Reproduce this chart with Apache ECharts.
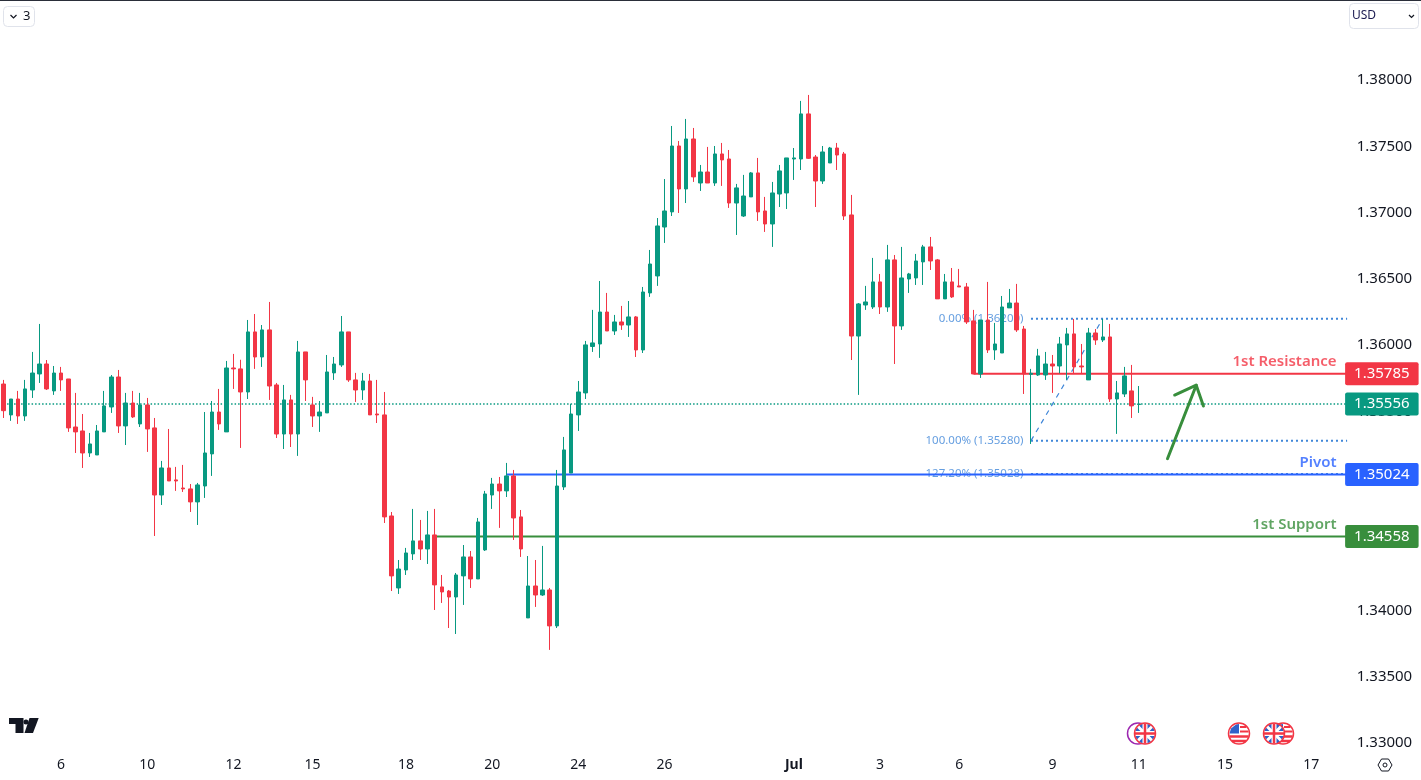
<!DOCTYPE html>
<html>
<head>
<meta charset="utf-8">
<title>GBP/USD 4H</title>
<script src="https://cdn.jsdelivr.net/npm/echarts@6/dist/echarts.min.js"></script>
<style>
  html, body { margin: 0; padding: 0; background: #fff; }
  #graphics { width: 1421px; height: 780px; }
</style>
</head>
<body>
<div id="graphics"></div>
<script>
// 4H candles
const opens = [
  1.35707,1.35474,1.35594,1.35466,1.35662,1.35783,1.35858,1.35655,1.3579,1.35745,
  1.35383,1.35353,1.35187,1.35172,1.35346,1.35534,1.3576,1.35391,1.35564,1.35406,
  1.35549,1.35376,1.3487,1.35074,1.34984,1.34923,1.34916,1.34818,1.34938,1.3518,
  1.35496,1.35346,1.35828,1.35821,1.35647,1.361,1.35911,1.36115,1.357,1.3533,
  1.35587,1.3533,1.35949,1.35549,1.35466,1.35489,1.35791,1.35851,1.361,1.35738,
  1.35662,1.3573,1.35481,1.35474,1.34712,1.34169,1.34305,1.34426,1.34524,1.34463,
  1.34569,1.34177,1.34146,1.34101,1.3426,1.34403,1.34237,1.34456,1.3487,1.34953,
  1.34901,1.35014,1.34705,1.33943,1.34184,1.34116,1.34154,1.33883,1.34931,1.35036,
  1.35474,1.3564,1.3599,1.36009,1.3625,1.36107,1.36175,1.36152,1.36213,1.35964,
  1.36394,1.36522,1.36891,1.37005,1.37502,1.37178,1.37555,1.37223,1.37306,1.37223,
  1.37442,1.37404,1.37072,1.36974,1.37118,1.37299,1.37012,1.36914,1.3714,1.37148,
  1.37404,1.37404,1.37744,1.37419,1.37238,1.37374,1.37487,1.37442,1.36982,1.36069,
  1.36303,1.36288,1.36477,1.36288,1.36643,1.36145,1.36499,1.36507,1.36628,1.36741,
  1.36643,1.36349,1.36477,1.36447,1.36439,1.36183,1.35783,1.3619,1.35964,1.35941,
  1.36281,1.36318,1.36122,1.3578,1.35775,1.35775,1.35858,1.35843,1.36002,1.36085,
  1.35843,1.35738,1.36092,1.36039,1.36062,1.35594,1.35632,1.35655,1.35553
];
const closes = [
  1.35506,1.35594,1.35466,1.3567,1.3579,1.35858,1.3567,1.3579,1.35738,1.35376,
  1.35346,1.35187,1.35255,1.35353,1.35542,1.3576,1.35391,1.35564,1.35459,1.35549,
  1.35368,1.3487,1.35074,1.34976,1.34976,1.34916,1.34818,1.34946,1.35187,1.35496,
  1.35406,1.35828,1.35821,1.35647,1.361,1.35911,1.36115,1.35692,1.3533,1.35587,
  1.3533,1.35949,1.35738,1.35466,1.35496,1.35798,1.35858,1.361,1.35738,1.35662,
  1.3573,1.35474,1.35474,1.34705,1.3426,1.34312,1.34433,1.34524,1.34463,1.34569,
  1.34192,1.34139,1.34101,1.34267,1.34403,1.34237,1.34667,1.34878,1.34953,1.34901,
  1.35014,1.34697,1.34463,1.34184,1.34116,1.34154,1.33883,1.34938,1.3521,1.35481,
  1.35647,1.36002,1.36017,1.3625,1.36107,1.36175,1.36152,1.36213,1.35964,1.36401,
  1.36612,1.36899,1.37012,1.37502,1.37178,1.37555,1.37269,1.37306,1.37223,1.37442,
  1.37397,1.37072,1.37186,1.37125,1.37299,1.37005,1.36914,1.37148,1.37314,1.37412,
  1.37412,1.37744,1.37409,1.37238,1.37457,1.37487,1.37434,1.36974,1.36069,1.36311,
  1.36326,1.36477,1.36288,1.36643,1.36145,1.36507,1.36537,1.36635,1.36741,1.36635,
  1.36349,1.36477,1.36364,1.36439,1.36175,1.35783,1.3619,1.35964,1.36009,1.36288,
  1.36318,1.36115,1.35783,1.35788,1.35919,1.35858,1.35843,1.36009,1.36085,1.35836,
  1.35836,1.36092,1.36039,1.36062,1.35594,1.3564,1.35768,1.35542,1.35556
];
const highs = [
  1.35738,1.35594,1.35655,1.35738,1.35949,1.3616,1.35888,1.35843,1.35836,1.35745,
  1.3564,1.35481,1.35338,1.35398,1.35655,1.35775,1.35813,1.3564,1.35655,1.3564,
  1.35602,1.35451,1.35127,1.35368,1.35082,1.35097,1.34953,1.34961,1.35496,1.35579,
  1.3567,1.35881,1.35934,1.3589,1.3619,1.36235,1.36152,1.36326,1.35715,1.357,
  1.35625,1.36032,1.35949,1.3561,1.35579,1.35926,1.35911,1.3622,1.361,1.35791,
  1.35791,1.35783,1.35738,1.35647,1.34742,1.3438,1.34471,1.34765,1.34682,1.3475,
  1.34765,1.34267,1.34154,1.34282,1.34493,1.34448,1.34697,1.34901,1.34999,1.35006,
  1.35112,1.35059,1.34757,1.3441,1.3438,1.34486,1.34169,1.35059,1.35308,1.35557,
  1.3573,1.36032,1.36266,1.36484,1.36394,1.36228,1.36296,1.36333,1.3622,1.36439,
  1.36718,1.36959,1.37253,1.37653,1.3754,1.37706,1.37638,1.37359,1.37495,1.37502,
  1.37525,1.37472,1.37216,1.37284,1.37306,1.37412,1.37118,1.37231,1.37359,1.37412,
  1.37487,1.37842,1.37887,1.37434,1.37502,1.37495,1.37525,1.37457,1.37133,1.36318,
  1.36447,1.36658,1.36537,1.36756,1.3668,1.36741,1.36545,1.36688,1.36756,1.36816,
  1.3665,1.36537,1.36582,1.36575,1.36469,1.36266,1.3619,1.36477,1.36168,1.36371,
  1.36424,1.36462,1.36145,1.35821,1.35972,1.35949,1.35926,1.36062,1.3613,1.36198,
  1.36009,1.3613,1.36122,1.36198,1.3616,1.3573,1.35836,1.35851,1.35692
];
const lows = [
  1.35451,1.35429,1.35406,1.35429,1.35602,1.35715,1.35662,1.35625,1.35655,1.35346,
  1.35187,1.35074,1.35157,1.35172,1.35346,1.35489,1.35338,1.35247,1.35451,1.35383,
  1.35195,1.34561,1.34795,1.34976,1.34901,1.34893,1.34742,1.34644,1.34848,1.35014,
  1.35361,1.35346,1.3567,1.35225,1.35594,1.35821,1.35836,1.35587,1.353,1.35217,
  1.35232,1.35165,1.35579,1.35383,1.35346,1.35489,1.35738,1.35836,1.35723,1.35572,
  1.35587,1.35474,1.35413,1.34659,1.34146,1.34124,1.34267,1.3438,1.3438,1.3435,
  1.34003,1.34056,1.33867,1.33822,1.34041,1.34169,1.34237,1.34448,1.34765,1.34622,
  1.34855,1.34531,1.34403,1.33943,1.34026,1.34109,1.33702,1.33867,1.34908,1.35036,
  1.35353,1.35594,1.35949,1.35904,1.36107,1.36077,1.36115,1.36062,1.35911,1.35941,
  1.36364,1.36447,1.36771,1.36974,1.36997,1.37072,1.37231,1.37163,1.37223,1.37201,
  1.37201,1.37035,1.36831,1.36967,1.37118,1.36937,1.36854,1.36741,1.37042,1.37027,
  1.37246,1.37321,1.37404,1.37042,1.37216,1.37374,1.37321,1.36944,1.35888,1.35625,
  1.36266,1.36273,1.36235,1.36251,1.35858,1.36115,1.36394,1.36454,1.36454,1.36567,
  1.36349,1.36349,1.36356,1.36439,1.3616,1.35783,1.35753,1.35941,1.35889,1.35941,
  1.36281,1.361,1.35632,1.35255,1.35768,1.35738,1.3564,1.35788,1.35738,1.35788,
  1.35788,1.35738,1.36002,1.36024,1.35572,1.35331,1.35609,1.35451,1.35489
];

// time axis: bar index of each tick and its label
const barCount = 188;
const tickBars = [8, 20, 32, 43, 56, 68, 80, 92, 110, 122, 133, 146, 158, 170, 182];
const tickLabels = ['6', '10', '12', '15', '18', '20', '24', '26', 'Jul', '3', '6', '9', '11', '15', '17'];
const priceTicks = [1.33, 1.335, 1.34, 1.345, 1.35, 1.355, 1.36, 1.365, 1.37, 1.375, 1.38];

// levels
const lastPrice = 1.35556;
const levelNames = ['1st Resistance', 'Pivot', '1st Support'];
const levelValues = [1.35785, 1.35024, 1.34558];
const levelStarts = [135, 70, 60];
const levelColors = ['#F23645', '#2962FF', '#388E3C'];

// fib tool
const fibNames = ['0.00% (1.36200)', '100.00% (1.35280)', '127.20% (1.35028)'];
const fibValues = [1.362, 1.3528, 1.35028];
const fibStart = 143;
const fibTrendEnd = 153;
const fibColor = '#3F86D8';

// arrow drawing
const arrowShaftBars = [162, 166];
const arrowShaftPrices = [1.35144, 1.35698];
const arrowHeadBars = [163, 166, 167];
const arrowHeadPrices = [1.35624, 1.35698, 1.35541];

const green = '#089981';
const red = '#F23645';
const textColor = '#131722';
const fontName = '"Noto Sans", sans-serif';

const categories = [];
for (let i = 0; i < barCount; i++) {
    const k = tickBars.indexOf(i);
    categories.push(k >= 0 ? tickLabels[k] : '');
}

function zip(xs, ys) {
    return xs.map(function (x, i) { return [x, ys[i]]; });
}

function flatLine(from, value) {
    return [[from, value], [barCount - 1, value]];
}

const series = [];

series.push({
    name: 'Candles',
    type: 'candlestick',
    z: 5,
    barWidth: 4,
    data: opens.map(function (o, i) { return [o, closes[i], lows[i], highs[i]]; }),
    itemStyle: { color: green, color0: red, borderColor: green, borderColor0: red, borderWidth: 1 }
});

// last price dotted line + tag
series.push({
    name: 'Last',
    type: 'line',
    z: 1,
    symbol: 'none',
    silent: true,
    data: flatLine(0, lastPrice),
    lineStyle: { color: green, width: 1.5, type: [1.5, 2] },
    endLabel: {
        show: true, distance: -2, color: '#fff', backgroundColor: green, borderRadius: 2,
        padding: [4, 9, 4, 9], fontSize: 15, lineHeight: 15, fontFamily: fontName,
        formatter: function () { return lastPrice.toFixed(5); }
    }
});

// fib lines, labels and the dashed trend line
fibValues.forEach(function (v, i) {
    series.push({
        type: 'line',
        z: 1,
        symbol: 'none',
        silent: true,
        data: flatLine(fibStart, v),
        lineStyle: { color: fibColor, width: 2, type: [2, 3] }
    });
    series.push({
        type: 'scatter',
        z: 1,
        symbolSize: 1,
        silent: true,
        itemStyle: { color: 'transparent' },
        data: [[fibStart, v]],
        label: {
            show: true, position: 'left', distance: 7, color: fibColor, fontSize: 11.5, fontFamily: fontName,
            formatter: function () { return fibNames[i]; }
        }
    });
});
series.push({
    type: 'line',
    z: 1,
    symbol: 'none',
    silent: true,
    data: [[fibStart, fibValues[1]], [fibTrendEnd, fibValues[0]]],
    lineStyle: { color: fibColor, width: 1.2, type: [5, 5] }
});

// support / resistance levels
levelValues.forEach(function (v, i) {
    series.push({
        name: levelNames[i],
        type: 'line',
        z: 2,
        symbol: 'none',
        silent: true,
        data: flatLine(levelStarts[i], v),
        lineStyle: { color: levelColors[i], width: 2 },
        endLabel: {
            show: true, distance: -2, color: '#fff', backgroundColor: levelColors[i], borderRadius: 2,
            padding: [4, 9, 4, 9], fontSize: 15, lineHeight: 15, fontFamily: fontName,
            formatter: function () { return v.toFixed(5); }
        }
    });
    series.push({
        type: 'scatter',
        z: 2,
        symbolSize: 1,
        silent: true,
        itemStyle: { color: 'transparent' },
        data: [[barCount - 1, v]],
        label: {
            show: true, position: 'left', distance: 10, offset: [0, -12], color: levelColors[i],
            fontSize: 15, fontWeight: 600, fontFamily: fontName,
            formatter: function () { return levelNames[i]; }
        }
    });
});

// the hand drawn arrow
[[arrowShaftBars, arrowShaftPrices], [arrowHeadBars, arrowHeadPrices]].forEach(function (a) {
    series.push({
        type: 'line',
        z: 4,
        symbol: 'none',
        silent: true,
        data: zip(a[0], a[1]),
        lineStyle: { color: levelColors[2], width: 3, cap: 'round', join: 'round' }
    });
});

// flag badges along the bottom
function ukFlag(cx, cy) {
    const r = 10;
    const d = r * 0.7;
    return [
        { type: 'circle', shape: { cx: cx, cy: cy, r: r }, style: { fill: '#2f62c9' } },
        { type: 'line', shape: { x1: cx - d, y1: cy - d, x2: cx + d, y2: cy + d }, style: { stroke: '#fff', lineWidth: 3 } },
        { type: 'line', shape: { x1: cx - d, y1: cy + d, x2: cx + d, y2: cy - d }, style: { stroke: '#fff', lineWidth: 3 } },
        { type: 'line', shape: { x1: cx - r, y1: cy, x2: cx + r, y2: cy }, style: { stroke: '#fff', lineWidth: 5 } },
        { type: 'line', shape: { x1: cx, y1: cy - r, x2: cx, y2: cy + r }, style: { stroke: '#fff', lineWidth: 5 } },
        { type: 'line', shape: { x1: cx - r, y1: cy, x2: cx + r, y2: cy }, style: { stroke: red, lineWidth: 2.5 } },
        { type: 'line', shape: { x1: cx, y1: cy - r, x2: cx, y2: cy + r }, style: { stroke: red, lineWidth: 2.5 } },
        { type: 'circle', shape: { cx: cx, cy: cy, r: 10.5 }, style: { fill: 'none', stroke: red, lineWidth: 1.5 } }
    ];
}

function usFlag(cx, cy) {
    const r = 10;
    return [
        { type: 'circle', shape: { cx: cx, cy: cy, r: r }, style: { fill: '#fff' } },
        { type: 'line', shape: { x1: cx - 9.5, y1: cy + 3, x2: cx + 9.5, y2: cy + 3 }, style: { stroke: red, lineWidth: 2.5 } },
        { type: 'line', shape: { x1: cx - 7, y1: cy + 7.5, x2: cx + 7, y2: cy + 7.5 }, style: { stroke: red, lineWidth: 2.5 } },
        { type: 'line', shape: { x1: cx + 1, y1: cy - 2, x2: cx + 9.5, y2: cy - 2 }, style: { stroke: red, lineWidth: 2 } },
        { type: 'line', shape: { x1: cx + 1, y1: cy - 6.5, x2: cx + 7.5, y2: cy - 6.5 }, style: { stroke: red, lineWidth: 2 } },
        { type: 'polygon', shape: { points: [[cx - 9.5, cy], [cx - 8, cy - 5], [cx - 3, cy - 9], [cx, cy - 9.5], [cx, cy], [cx, cy]] }, style: { fill: '#2f62c9' } },
        { type: 'circle', shape: { cx: cx, cy: cy, r: 10.5 }, style: { fill: 'none', stroke: red, lineWidth: 1.5 } }
    ];
}

const flagY = 733.5;
const badges = [].concat(
    [{ type: 'circle', shape: { cx: 1138, cy: flagY, r: 10.5 }, style: { fill: '#fff', stroke: '#9C27B0', lineWidth: 1.5 } }],
    ukFlag(1145, flagY),
    usFlag(1283, flagY),
    ukFlag(1274, flagY),
    usFlag(1239, flagY)
);

const chrome = [
    // hides the part of the lowest price label that runs into the time scale
    { type: 'rect', shape: { x: 1346, y: 747, width: 75, height: 33 }, style: { fill: '#fff' } },
    // top edge
    { type: 'rect', shape: { x: 0, y: 0, width: 1421, height: 1 }, style: { fill: '#2A2E39' } },
    // "3" indicators button
    { type: 'rect', shape: { x: 3.5, y: 6.5, width: 31, height: 20, r: 4 }, style: { fill: '#fff', stroke: '#E0E3EB', lineWidth: 1 } },
    { type: 'polyline', shape: { points: [[10.5, 15], [13.5, 18], [16.5, 15]] }, style: { fill: 'none', stroke: textColor, lineWidth: 1.2 } },
    { type: 'text', x: 23, y: 10, style: { text: '3', fill: textColor, font: '13px ' + fontName } },
    // currency button
    { type: 'rect', shape: { x: 1349.5, y: 3.5, width: 69, height: 25, r: 4 }, style: { fill: '#fff', stroke: '#E0E3EB', lineWidth: 1 } },
    { type: 'text', x: 1352, y: 10, style: { text: 'USD', fill: '#1A1A50', font: '12px ' + fontName } },
    { type: 'polyline', shape: { points: [[1409, 15], [1411.5, 17.5], [1414, 15]] }, style: { fill: 'none', stroke: textColor, lineWidth: 1.2 } },
    // logo
    { type: 'polygon', shape: { points: [[9, 718], [23.5, 718], [23.5, 733], [15.5, 733], [15.5, 724], [9, 724]] }, style: { fill: textColor } },
    { type: 'circle', shape: { cx: 26, cy: 722, r: 2.5 }, style: { fill: textColor } },
    { type: 'polygon', shape: { points: [[29.5, 718], [38.7, 718], [33, 733], [24.5, 733]] }, style: { fill: textColor } },
    // settings icon on the time scale
    { type: 'polygon', shape: { points: [[1378, 765], [1381.5, 759], [1388.5, 759], [1392, 765], [1388.5, 771], [1381.5, 771]] }, style: { fill: 'none', stroke: textColor, lineWidth: 1 } },
    { type: 'circle', shape: { cx: 1385, cy: 765, r: 2 }, style: { fill: 'none', stroke: textColor, lineWidth: 1 } }
];

const myChart = echarts.init(document.getElementById('graphics'));
myChart.setOption({
    animation: false,
    backgroundColor: '#fff',
    textStyle: { fontFamily: fontName },
    grid: { left: -2.5, width: 1353.2, top: 0, height: 752 },
    xAxis: {
        type: 'category',
        data: categories,
        boundaryGap: true,
        axisLine: { show: false },
        axisTick: { show: false },
        splitLine: { show: false },
        axisLabel: {
            interval: 0,
            margin: 6,
            color: textColor,
            fontSize: 14,
            fontFamily: fontName,
            hideOverlap: false,
            formatter: function (v) { return v === 'Jul' ? '{b|Jul}' : v; },
            rich: { b: { fontWeight: 'bold', fontSize: 14, color: textColor, fontFamily: fontName } }
        }
    },
    yAxis: {
        type: 'value',
        position: 'right',
        min: 1.32932,
        max: 1.38603,
        axisLine: { show: false },
        axisTick: { show: false },
        splitLine: { show: false },
        axisLabel: {
            customValues: priceTicks,
            margin: 6,
            padding: [4, 0, 0, 0],
            color: textColor,
            fontSize: 15,
            fontFamily: fontName,
            formatter: function (v) { return v.toFixed(5); }
        }
    },
    graphic: { elements: chrome.concat(badges).map(function (e) { e.z = 20; e.silent = true; return e; }) },
    series: series
});
</script>
</body>
</html>
